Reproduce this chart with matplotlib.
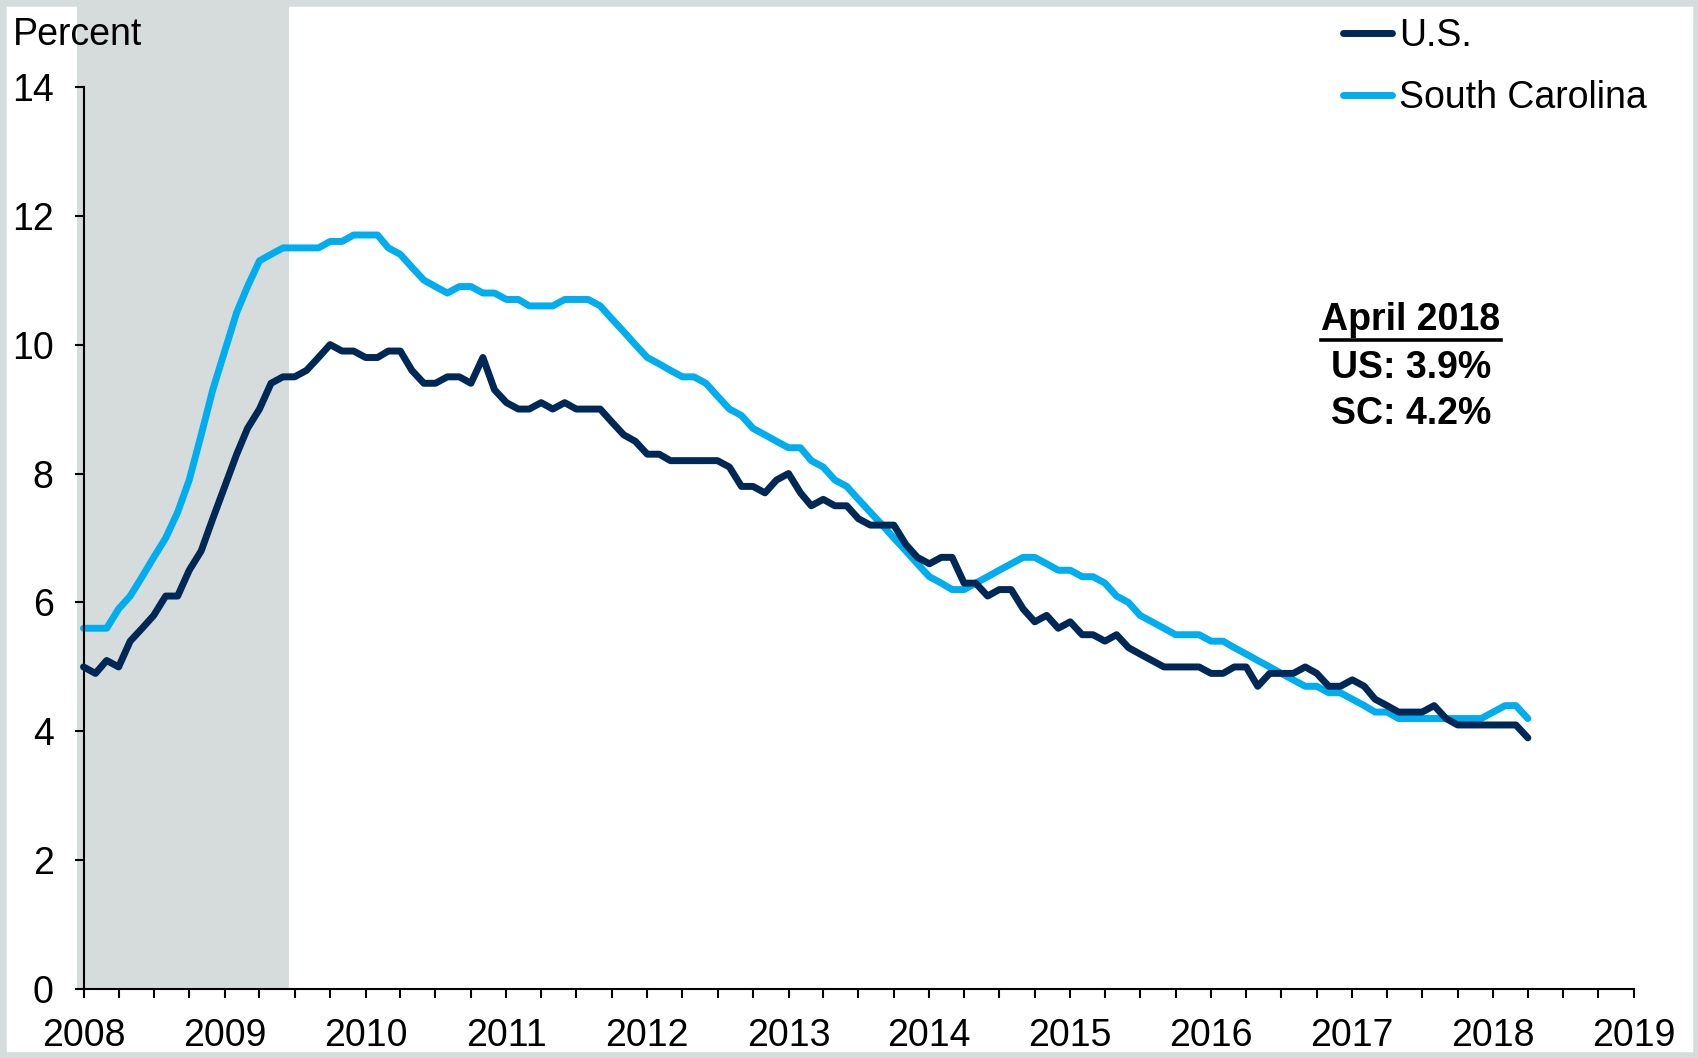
import numpy as np
import pandas as pd
import matplotlib
matplotlib.use('Agg')
import matplotlib.pyplot as plt
import matplotlib.dates as mdates
from matplotlib.patches import Rectangle
from matplotlib.lines import Line2D

plt.rcParams['font.family'] = ['Liberation Sans', 'DejaVu Sans']

# monthly unemployment rate, Jan 2008 - Apr 2018
months = pd.date_range('2008-01-01', '2018-04-01', freq='MS')

us_rate = [5.0, 4.9, 5.1, 5.0, 5.4, 5.6, 5.8, 6.1, 6.1, 6.5, 6.8, 7.3,
           7.8, 8.3, 8.7, 9.0, 9.4, 9.5, 9.5, 9.6, 9.8, 10.0, 9.9, 9.9,
           9.8, 9.8, 9.9, 9.9, 9.6, 9.4, 9.4, 9.5, 9.5, 9.4, 9.8, 9.3,
           9.1, 9.0, 9.0, 9.1, 9.0, 9.1, 9.0, 9.0, 9.0, 8.8, 8.6, 8.5,
           8.3, 8.3, 8.2, 8.2, 8.2, 8.2, 8.2, 8.1, 7.8, 7.8, 7.7, 7.9,
           8.0, 7.7, 7.5, 7.6, 7.5, 7.5, 7.3, 7.2, 7.2, 7.2, 6.9, 6.7,
           6.6, 6.7, 6.7, 6.3, 6.3, 6.1, 6.2, 6.2, 5.9, 5.7, 5.8, 5.6,
           5.7, 5.5, 5.5, 5.4, 5.5, 5.3, 5.2, 5.1, 5.0, 5.0, 5.0, 5.0,
           4.9, 4.9, 5.0, 5.0, 4.7, 4.9, 4.9, 4.9, 5.0, 4.9, 4.7, 4.7,
           4.8, 4.7, 4.5, 4.4, 4.3, 4.3, 4.3, 4.4, 4.2, 4.1, 4.1, 4.1,
           4.1, 4.1, 4.1, 3.9]

sc_rate = [5.6, 5.6, 5.6, 5.9, 6.1, 6.4, 6.7, 7.0, 7.4, 7.9, 8.6, 9.3,
           9.9, 10.5, 10.9, 11.3, 11.4, 11.5, 11.5, 11.5, 11.5, 11.6, 11.6, 11.7,
           11.7, 11.7, 11.5, 11.4, 11.2, 11.0, 10.9, 10.8, 10.9, 10.9, 10.8, 10.8,
           10.7, 10.7, 10.6, 10.6, 10.6, 10.7, 10.7, 10.7, 10.6, 10.4, 10.2, 10.0,
           9.8, 9.7, 9.6, 9.5, 9.5, 9.4, 9.2, 9.0, 8.9, 8.7, 8.6, 8.5,
           8.4, 8.4, 8.2, 8.1, 7.9, 7.8, 7.6, 7.4, 7.2, 7.0, 6.8, 6.6,
           6.4, 6.3, 6.2, 6.2, 6.3, 6.4, 6.5, 6.6, 6.7, 6.7, 6.6, 6.5,
           6.5, 6.4, 6.4, 6.3, 6.1, 6.0, 5.8, 5.7, 5.6, 5.5, 5.5, 5.5,
           5.4, 5.4, 5.3, 5.2, 5.1, 5.0, 4.9, 4.8, 4.7, 4.7, 4.6, 4.6,
           4.5, 4.4, 4.3, 4.3, 4.2, 4.2, 4.2, 4.2, 4.2, 4.2, 4.2, 4.2,
           4.3, 4.4, 4.4, 4.2]

recession = (pd.Timestamp('2007-12-16'), pd.Timestamp('2009-06-16'))
yticks = list(range(0, 15, 2))
note_lines = ['April 2018', 'US: 3.9%', 'SC: 4.2%']

US_COLOR = '#002856'
SC_COLOR = '#00ADEE'
GRAY = '#D6DCDC'
FS = 27

W, H = 1699, 1058
fig = plt.figure(figsize=(W / 100, H / 100), dpi=100)

# pixel layout: 2008 at x=83.5, 2019 at x=1634, y=0 at 989
x2008, x2019 = 83.5, 1634.0
days = (pd.Timestamp('2019-01-01') - pd.Timestamp('2008-01-01')).days
x_start = pd.Timestamp('2007-12-13')
lead = (pd.Timestamp('2008-01-01') - x_start).days
left_px = x2008 - lead / days * (x2019 - x2008)
y0_px = 989.3
ax = fig.add_axes([left_px / W, 1 - y0_px / H, (x2019 - left_px) / W, y0_px / H])

ax.axvspan(*recession, color=GRAY, lw=0, zorder=0)
ax.plot(months, us_rate, color=US_COLOR, lw=5, label='U.S.',
        solid_capstyle='round', zorder=3)
ax.plot(months, sc_rate, color=SC_COLOR, lw=5, label='South Carolina',
        solid_capstyle='round', zorder=2)

ax.set_xlim(x_start, pd.Timestamp('2019-01-01'))
ax.set_ylim(0, y0_px / 64.47)

for s in ['top', 'right']:
    ax.spines[s].set_visible(False)
ax.spines['left'].set_position(('data', mdates.date2num(pd.Timestamp('2008-01-01'))))
ax.spines['left'].set_bounds(0, 14)
ax.spines['bottom'].set_bounds(mdates.date2num(pd.Timestamp('2008-01-01')),
                               mdates.date2num(pd.Timestamp('2019-01-01')))
for s in ['left', 'bottom']:
    ax.spines[s].set_linewidth(1.5)

ax.set_yticks(yticks)
ax.xaxis.set_major_locator(mdates.YearLocator())
ax.xaxis.set_major_formatter(mdates.DateFormatter('%Y'))
ax.xaxis.set_minor_locator(mdates.MonthLocator(bymonth=[4, 7, 10]))
ax.tick_params(axis='both', which='both', direction='out', length=6.5, width=1.5)
ax.tick_params(axis='y', labelsize=FS, pad=15)
ax.tick_params(axis='x', labelsize=FS, pad=14.5)

fig.text(13 / W, 1 - 45 / H, 'Percent', fontsize=FS, va='baseline', ha='left')

ax.legend(loc='upper left', bbox_to_anchor=(1343 / W, 1 - 18 / H),
          bbox_transform=fig.transFigure, frameon=False, fontsize=FS,
          handlelength=1.3, handletextpad=0.2, labelspacing=0.7,
          borderpad=0, borderaxespad=0)

note_y = [320, 368, 414]
texts = []
for line, yy in zip(note_lines, note_y):
    texts.append(fig.text(1411 / W, 1 - yy / H, line, fontsize=FS,
                          fontweight='bold', ha='center', va='center'))

# underline the heading of the note
fig.canvas.draw()
bb = texts[0].get_window_extent(fig.canvas.get_renderer())
uy = (bb.y0 - 2) / H
fig.add_artist(Line2D([bb.x0 / W, bb.x1 / W], [uy, uy], color='black',
                      lw=2.6, transform=fig.transFigure))

fig.add_artist(Rectangle((0, 0), 1, 1, transform=fig.transFigure, fill=False,
                         edgecolor=GRAY, lw=9, clip_on=False))

fig.savefig('out.png', dpi=100)
